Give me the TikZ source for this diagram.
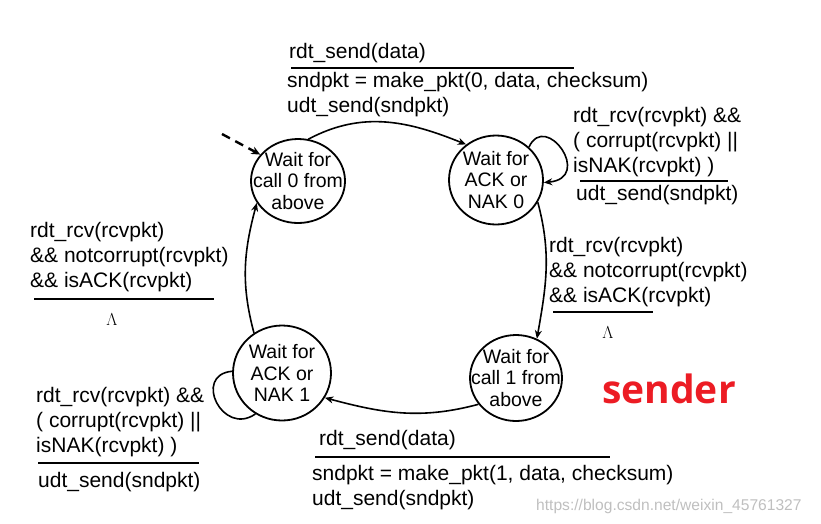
\documentclass[tikz,border=0pt]{standalone}
\usepackage{fontspec}
\setmainfont{Liberation Sans}
\newfontfamily\senderfont{Open Sans}
\usetikzlibrary{arrows.meta}
\usetikzlibrary{shapes.geometric}

\definecolor{senderred}{RGB}{236,28,36}

\tikzset{
  state/.style={ellipse, draw, line width=1.8pt, minimum width=94pt, minimum height=86pt, inner sep=0pt},
  statetext/.style={align=center, inner sep=0pt, font=\fontsize{19.5}{21.7}\selectfont},
  trans/.style={line width=1.6pt, -{Stealth[length=8.5pt,width=7pt]}},
  selfloop/.style={line width=1.6pt},
  % base of a multi-line node = baseline of its last line
  lbl/.style={align=left, inner sep=0pt, anchor=base west, font=\fontsize{21}{24.6}\selectfont},
  bar/.style={line width=2.6pt},
  nothing/.style={inner sep=0pt, font=\fontsize{18}{20}\selectfont},
}

\begin{document}
\begin{tikzpicture}[x=1pt,y=1pt]
    \useasboundingbox (0,0) rectangle (821,-523);

    % states
    \node[state, minimum height=84pt, label={[statetext]center:Wait for\\call 0 from\\above}] (s0) at (298,-181) {};
    \node[state, minimum height=89pt, label={[statetext]center:Wait for\\ACK or\\NAK 0}] (s1) at (496,-180) {};
    \node[state, minimum width=92pt, label={[statetext]center:Wait for\\call 1 from\\above}] (s2) at (516,-378) {};
    \node[state, minimum width=98pt, minimum height=95pt, label={[statetext]center:Wait for\\ACK or\\NAK 1}] (s3) at (282,-373) {};

    % initial arrow
    \coordinate (init) at (222,-134);
    \draw[line width=2.4pt, dash pattern=on 9pt off 6pt, -{Stealth[length=9pt,width=8pt]}] (init) -- (s0.145);

    % transitions
    \draw[trans] (s0.76) to[out=28, in=158] (s1.130);
    \draw[trans] (s1.-28) to[out=-75, in=80] (s2.62);
    \draw[trans] (s2.215) to[out=195, in=-15] (s3.-30);
    \draw[trans] (s3.125) to[out=105, in=255] (s0.208);
    \draw[trans] (s1.45) .. controls +(65:40) and +(5:50) .. (s1.-3);
    \draw[selfloop] (s3.178) .. controls +(185:40) and +(215:40) .. (s3.237);

    % s0 -> s1
    \node[lbl] (c01) at (289,-58) {rdt\_send(data)};
    \draw[bar] (291,-68) -- (574,-68);
    \node[lbl] (a01) at (287,-112) {sndpkt = make\_pkt(0, data, checksum)\\udt\_send(sndpkt)};

    % s1 loop
    \node[lbl] (c11) at (573,-172) {rdt\_rcv(rcvpkt) \&\&\\( corrupt(rcvpkt) ||\\isNAK(rcvpkt) )};
    \draw[bar] (580,-181) -- (728,-181);
    \node[lbl] (a11) at (576,-200) {udt\_send(sndpkt)};

    % s1 -> s2
    \node[lbl] (c12) at (549,-302) {rdt\_rcv(rcvpkt)\\\&\& notcorrupt(rcvpkt)\\\&\& isACK(rcvpkt)};
    \draw[bar] (553,-312) -- (653,-312);
    \node[nothing] (a12) at (608,-333) {$\Lambda$};

    % s3 -> s0
    \node[lbl] (c30) at (30,-287) {rdt\_rcv(rcvpkt)\\\&\& notcorrupt(rcvpkt)\\\&\& isACK(rcvpkt)};
    \draw[bar] (34,-299) -- (214,-299);
    \node[nothing] (a30) at (112,-320) {$\Lambda$};

    % s3 loop
    \node[lbl] (c33) at (36,-452) {rdt\_rcv(rcvpkt) \&\&\\( corrupt(rcvpkt) ||\\isNAK(rcvpkt) )};
    \draw[bar] (38,-463) -- (199,-463);
    \node[lbl] (a33) at (38,-487) {udt\_send(sndpkt)};

    % s2 -> s3
    \node[lbl] (c23) at (319,-445) {rdt\_send(data)};
    \draw[bar] (315,-457) -- (610,-457);
    \node[lbl] (a23) at (312,-505) {sndpkt = make\_pkt(1, data, checksum)\\udt\_send(sndpkt)};

    \node[anchor=base west, inner sep=0pt, text=senderred, font=\senderfont\bfseries\fontsize{39}{40}\selectfont] (sender) at (602,-403) {sender};
    \node[anchor=base west, inner sep=0pt, text=black!25, font=\fontsize{15.6}{17}\selectfont] (mark) at (536,-510) {https://blog.csdn.net/weixin\_45761327};
\end{tikzpicture}
\end{document}
